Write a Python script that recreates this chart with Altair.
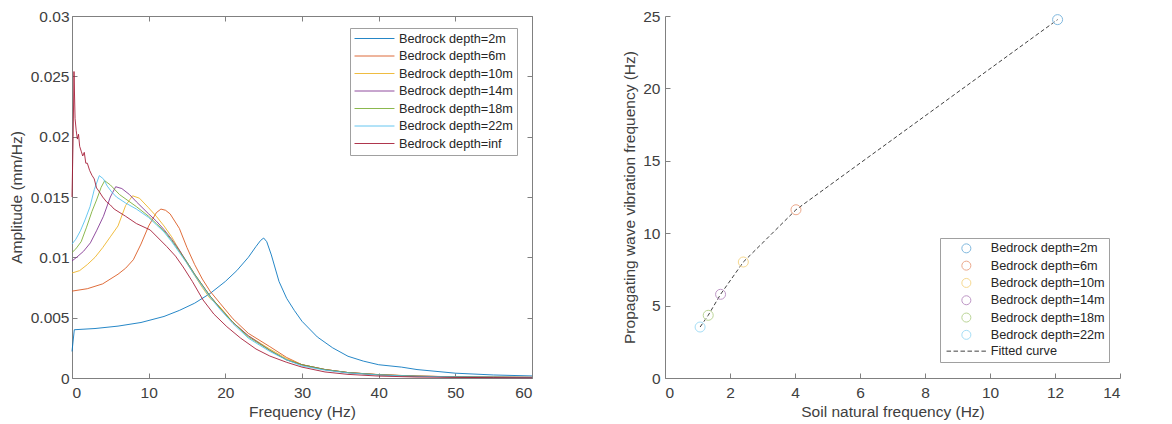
import altair as alt
import pandas as pd

# ---------------- data: left panel (amplitude spectra) ----------------
series_labels = ["Bedrock depth=2m", "Bedrock depth=6m", "Bedrock depth=10m",
                 "Bedrock depth=14m", "Bedrock depth=18m", "Bedrock depth=22m",
                 "Bedrock depth=inf"]
line_colors = ["#0072BD", "#D95319", "#EDB120", "#7E2F8E", "#77AC30", "#4DBEEE", "#A2142F"]

f_2m = [0, 0.3, 3, 6, 9, 12, 14, 16, 18, 20, 21.5, 23, 24, 24.6, 25, 25.4, 26, 27, 28, 29, 30,
        32, 34, 36, 38, 40, 43, 45, 50, 55, 60]
a_2m = [0.0022, 0.0040, 0.0041, 0.0043, 0.0046, 0.0051, 0.0056, 0.0062, 0.0070, 0.0080, 0.0089,
        0.0100, 0.0109, 0.0114, 0.0116, 0.0113, 0.0102, 0.0080, 0.0066, 0.0056, 0.0047,
        0.0034, 0.0025, 0.0018, 0.0014, 0.0011, 0.0009, 0.0007, 0.0004, 0.00025, 0.00017]

f_6m = [0, 2, 4, 6, 7, 8, 9, 10, 11, 11.6, 12.2, 12.8, 14, 15, 16, 17, 18, 19.3, 21, 23, 25.8,
        28, 30, 33, 36, 40, 45, 50, 55, 60]
a_6m = [0.0072, 0.0074, 0.0078, 0.0086, 0.0091, 0.0098, 0.0111, 0.0126, 0.0137, 0.0140, 0.0139,
        0.0136, 0.0124, 0.0108, 0.0094, 0.0082, 0.0072, 0.0062, 0.0049, 0.0037, 0.0026,
        0.0017, 0.0011, 0.0007, 0.00045, 0.00028, 0.00016, 0.0001, 0.00007, 0.00005]

f_10m = [0, 1, 2, 3, 4, 5, 6, 7, 7.9, 8.8, 10, 11, 12, 13, 14, 15, 16, 17, 18, 19.3, 21, 23,
         25.8, 28, 30, 33, 36, 40, 45, 50, 55, 60]
a_10m = [0.0087, 0.0089, 0.0094, 0.0100, 0.0108, 0.0117, 0.0126, 0.0143, 0.0151, 0.0149, 0.0141,
         0.0134, 0.0126, 0.0117, 0.0106, 0.0095, 0.0085, 0.0075, 0.0066, 0.0059, 0.0046, 0.0035,
         0.0024, 0.0016, 0.0011, 0.0007, 0.00045, 0.00028, 0.00016, 0.0001, 0.00007, 0.00005]

f_14m = [0, 0.6, 1.5, 2.4, 3.2, 4.1, 5, 5.7, 6.5, 7.5, 8.4, 10, 11, 12, 13, 14, 15, 16, 17, 18,
         19.3, 21, 23, 25.8, 28, 30, 33, 36, 40, 45, 50, 55, 60]
a_14m = [0.0097, 0.0100, 0.0105, 0.0112, 0.0122, 0.0134, 0.0150, 0.01585, 0.0157, 0.0152, 0.0146,
         0.0136, 0.0130, 0.0123, 0.0115, 0.0106, 0.0096, 0.0086, 0.0077, 0.0068, 0.0058, 0.0046,
         0.0035, 0.0023, 0.0015, 0.0011, 0.0007, 0.00045, 0.00027, 0.00015, 0.0001, 0.00007, 0.00005]

f_18m = [0, 0.5, 1.2, 1.9, 2.6, 3.2, 3.8, 4.26, 5, 6.2, 7.3, 8.4, 10, 11, 12, 13, 14, 15, 16, 17,
         18, 19.3, 21, 23, 25.8, 28, 30, 33, 36, 40, 45, 50, 55, 60]
a_18m = [0.0104, 0.0107, 0.0113, 0.0125, 0.0138, 0.01475, 0.0158, 0.01635, 0.0160, 0.0152, 0.0147,
         0.0142, 0.0134, 0.0128, 0.0122, 0.0114, 0.0105, 0.0096, 0.0086, 0.0077, 0.0068, 0.0058,
         0.0046, 0.0034, 0.0023, 0.0015, 0.0011, 0.0007, 0.00045, 0.00027, 0.00015, 0.0001,
         0.00007, 0.00005]

f_22m = [0, 0.5, 1.1, 1.7, 2.35, 2.9, 3.56, 4.1, 4.6, 5.2, 5.8, 7, 8.4, 10, 11, 12, 13, 14, 15,
         16, 17, 18, 19.3, 21, 23, 25.8, 28, 30, 33, 36, 40, 45, 50, 55, 60]
a_22m = [0.0111, 0.0115, 0.0122, 0.0131, 0.0142, 0.0156, 0.01677, 0.0165, 0.0159, 0.0154, 0.0150,
         0.0145, 0.0140, 0.0133, 0.0127, 0.0121, 0.0113, 0.0104, 0.0095, 0.0085, 0.0076, 0.0067,
         0.0057, 0.0045, 0.0033, 0.0022, 0.0015, 0.0010, 0.00065, 0.00042, 0.00025, 0.00014,
         0.00009, 0.00006, 0.00004]

f_inf = [0, 0.15, 0.26, 0.4, 0.55, 0.7, 0.85, 1.0, 1.2, 1.4, 1.6, 1.8, 2.0, 2.3, 2.6, 2.9, 3.2,
         3.6, 4.0, 4.5, 5.0, 5.5, 6.0, 7.0, 8.4, 10.2, 12.35, 13.5, 14.5, 15.7, 17.1, 18.5, 20.2,
         22, 24, 25.8, 28, 30, 33, 36, 40, 45, 50, 55, 60]
a_inf = [0.0150, 0.0200, 0.0254, 0.0215, 0.0205, 0.0198, 0.0202, 0.0192, 0.0188, 0.0184, 0.0187,
         0.0178, 0.0178, 0.0172, 0.0168, 0.0165, 0.01575, 0.0154, 0.0150, 0.0146, 0.01434, 0.0140,
         0.0138, 0.0134, 0.0128, 0.01227, 0.0109, 0.0101, 0.0092, 0.0080, 0.00646, 0.0053,
         0.00425, 0.0033, 0.0024, 0.00182, 0.0013, 0.0009, 0.0005, 0.0003, 0.00016, 0.00008,
         0.00005, 0.00003, 0.00002]

# ---------------- data: right panel ----------------
point_labels = series_labels[:6]
soil_freq = [12.08, 4.03, 2.41, 1.71, 1.33, 1.08]
wave_freq = [24.75, 11.62, 8.01, 5.78, 4.33, 3.52]
fit_label = "Fitted curve"

# ---------------- build tables ----------------
rows = []
for lab, fs, as_ in zip(series_labels,
                        [f_2m, f_6m, f_10m, f_14m, f_18m, f_22m, f_inf],
                        [a_2m, a_6m, a_10m, a_14m, a_18m, a_22m, a_inf]):
    for f, a in zip(fs, as_):
        rows.append({"series": lab, "f": f, "a": a})
spec_df = pd.DataFrame(rows)

pts_df = pd.DataFrame({"group": point_labels, "soil": soil_freq, "wave": wave_freq})

FONT = "Liberation Sans"
TXT = "#404040"
AX = "#808080"
W1, W2, H = 460, 455, 362

common = dict(labelFont=FONT, titleFont=FONT, labelFontSize=15.5, titleFontSize=15.5,
              labelColor=TXT, titleColor=TXT, titleFontWeight="normal", grid=False)
tick_only = dict(labels=False, domain=False, grid=False, tickColor=AX, tickSize=5, tickWidth=1)

# ---------------- left chart ----------------
xs1 = alt.Scale(domain=[0, 60], nice=False, zero=False)
ys1 = alt.Scale(domain=[0, 0.03], nice=False)
xv1 = [0, 10, 20, 30, 40, 50, 60]
yv1 = [0, 0.005, 0.01, 0.015, 0.02, 0.025, 0.03]

line_sym = "M-3.33,0H3.33"

lines = alt.Chart(spec_df).mark_line(strokeWidth=1, opacity=0.85).encode(
    x=alt.X("f:Q", scale=xs1, axis=alt.Axis(orient="bottom", values=xv1, ticks=False, domain=False,
                                              title="Frequency (Hz)", labelPadding=7, titlePadding=4,
                                              **common)),
    y=alt.Y("a:Q", scale=ys1, axis=alt.Axis(orient="left", values=yv1, ticks=False, domain=False,
                                              format="~g", title="Amplitude (mm/Hz)",
                                              labelPadding=3, titlePadding=6, **common)),
    color=alt.Color("series:N", sort=series_labels,
                    scale=alt.Scale(domain=series_labels, range=line_colors),
                    legend=alt.Legend(title=None, orient="none", legendX=278, legendY=12,
                                      symbolType=line_sym, symbolSize=144,
                                      symbolStrokeWidth=1, labelFont=FONT, labelFontSize=12.7,
                                      labelColor="#262626", strokeColor="#a0a0a0",
                                      fillColor="white", padding=4, rowPadding=3.5,
                                      symbolOffset=14, labelOffset=18, labelLimit=300)),
    order=alt.Order("f:Q"),
)

ghost_a = alt.Chart(spec_df).mark_point(opacity=0).encode(
    x=alt.X("f:Q", scale=xs1, axis=alt.Axis(orient="top", offset=-H, values=xv1, title=None, **tick_only)),
    y=alt.Y("a:Q", scale=ys1, axis=alt.Axis(orient="right", offset=-W1, values=yv1, title=None, **tick_only)),
)
ghost_b = alt.Chart(spec_df).mark_point(opacity=0).encode(
    x=alt.X("f:Q", scale=xs1, axis=alt.Axis(orient="bottom", offset=-H, values=xv1, title=None, **tick_only)),
    y=alt.Y("a:Q", scale=ys1, axis=alt.Axis(orient="left", offset=-W1, values=yv1, title=None, **tick_only)),
)

left = alt.layer(ghost_a, ghost_b, lines).resolve_axis(x="independent", y="independent").properties(
    width=W1, height=H, view=alt.ViewBackground(stroke=AX, strokeWidth=1))

# ---------------- right chart ----------------
xs2 = alt.Scale(domain=[0, 14], nice=False, zero=False)
ys2 = alt.Scale(domain=[0, 25], nice=False)
xv2 = [0, 2, 4, 6, 8, 10, 12, 14]
yv2 = [0, 5, 10, 15, 20, 25]

dash_sym = "M-4.4,0H-3.4M-2.85,0H-1.85M-1.3,0H-0.3M0.25,0H1.25M1.8,0H2.8M3.35,0H4.35"
legend_labels = point_labels + [fit_label]
legend_colors = ["#80B8DE", "#ECA98C", "#F6D88F", "#BE97C6", "#BBD597", "#A6DEF6", "#404040"]
legend_shapes = ["circle"] * 6 + [dash_sym]

leg2 = alt.Legend(title=None, orient="none", legendX=275, legendY=222,
                  labelFont=FONT, labelFontSize=12.7, labelColor="#262626",
                  strokeColor="#a0a0a0", fillColor="white", padding=4, rowPadding=2.3,
                  symbolSize=81, symbolStrokeWidth=1, symbolOffset=16, labelOffset=18,
                  labelLimit=300)

fit_line = alt.Chart(pts_df).mark_line(strokeDash=[4, 2.5], strokeWidth=1, color="#404040").encode(
    x=alt.X("soil:Q", scale=xs2, axis=None),
    y=alt.Y("wave:Q", scale=ys2, axis=None),
    order=alt.Order("soil:Q"),
)

points = alt.Chart(pts_df).mark_point(filled=False, size=100, strokeWidth=1, opacity=1).encode(
    x=alt.X("soil:Q", scale=xs2, axis=alt.Axis(orient="bottom", values=xv2, ticks=False,
                                                 domainColor=AX, title="Soil natural frequency (Hz)",
                                                 labelPadding=7, titlePadding=4, **common)),
    y=alt.Y("wave:Q", scale=ys2, axis=alt.Axis(orient="left", values=yv2, ticks=False,
                                                 domainColor=AX,
                                                 title="Propagating wave vibration frequency (Hz)",
                                                 labelPadding=5, titlePadding=5, **common)),
    color=alt.Color("group:N", sort=legend_labels,
                    scale=alt.Scale(domain=legend_labels, range=legend_colors), legend=leg2),
    shape=alt.Shape("group:N", sort=legend_labels,
                    scale=alt.Scale(domain=legend_labels, range=legend_shapes), legend=leg2),
)

ghost_c = alt.Chart(pts_df).mark_point(opacity=0).encode(
    x=alt.X("soil:Q", scale=xs2, axis=alt.Axis(orient="top", offset=-H, values=xv2, title=None, **tick_only)),
    y=alt.Y("wave:Q", scale=ys2, axis=alt.Axis(orient="right", offset=-W2, values=yv2, title=None, **tick_only)),
)

right = alt.layer(ghost_c, fit_line, points).resolve_axis(x="independent", y="independent").properties(
    width=W2, height=H)

chart = alt.hconcat(left, right, spacing=86).resolve_scale(
    color="independent", shape="independent").resolve_legend(
    color="independent", shape="independent").properties(
    padding={"left": 8, "top": 8, "right": 5, "bottom": 5},
    background="white",
).configure_view(stroke="transparent")

chart.save("out.html", embed_options={"renderer": "svg", "actions": False})
